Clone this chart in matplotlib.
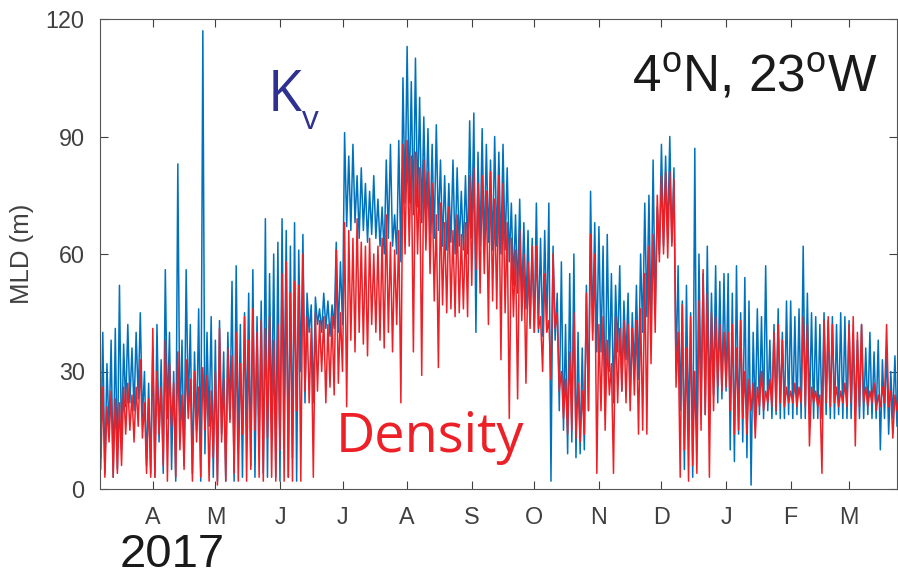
import numpy as np
import pandas as pd
import matplotlib
matplotlib.use("Agg")
import matplotlib.pyplot as plt

plt.rcParams['font.family'] = ['Liberation Sans', 'DejaVu Sans']
plt.rcParams['mathtext.fontset'] = 'custom'
plt.rcParams['mathtext.rm'] = 'Liberation Sans'

# samples every 2 days from 6 Mar 2017: high value on the day, low value the day after
start = '2017-03-06'

kv_hi = [
    35, 40, 32, 38, 41, 52, 37, 42, 36, 40, 45, 30, 27,            # Mar
    36, 42, 33, 56, 40, 30, 83, 38, 56, 42, 35, 46, 117, 40, 44,    # Apr
    38, 43, 35, 40, 53, 57, 42, 45, 50, 56, 44, 48, 69, 55, 60, 63,  # May
    69, 66, 62, 68, 61, 65, 50, 47, 49, 46, 50, 48, 47, 63, 58,     # Jun
    91, 85, 88, 80, 82, 78, 76, 80, 74, 72, 84, 88, 70, 89, 105,    # Jul
    113, 104, 110, 100, 95, 92, 88, 93, 84, 80, 78, 84, 82, 76, 80, 94,  # Aug
    96, 86, 92, 88, 84, 90, 86, 88, 82, 73, 70, 74, 68, 66, 64,     # Sep
    73, 64, 66, 73, 62, 50, 58, 42, 55, 60, 40, 36, 52, 76, 68,     # Oct
    67, 62, 65, 55, 52, 57, 48, 50, 45, 52, 60, 73, 75, 84, 72,     # Nov
    88, 85, 90, 82, 57, 48, 52, 45, 87, 60, 55, 62, 50, 57, 53, 55,  # Dec
    55, 50, 57, 45, 54, 48, 40, 46, 44, 57, 38, 42, 46, 40, 48,     # Jan
    48, 44, 46, 62, 50, 45, 44, 42, 45, 43, 44, 42, 45, 44,         # Feb
    43, 40, 38, 42, 36, 40, 35, 38, 33, 36, 30, 34, 28,             # Mar
]
kv_lo = [
    8, 4, 14, 3, 5, 10, 21, 22, 20, 23, 18, 6, 4,
    3, 12, 4, 18, 5, 2, 14, 6, 20, 4, 15, 2, 9, 16, 3,
    2, 14, 2, 18, 2, 10, 3, 16, 6, 3, 12, 4, 3, 15, 3, 2,
    20, 3, 8, 2, 30, 22, 40, 22, 42, 40, 41, 39, 41, 40, 42,
    67, 66, 68, 64, 66, 63, 65, 64, 62, 60, 64, 62, 60, 58, 73,
    73, 70, 72, 68, 69, 65, 64, 66, 62, 61, 63, 60, 62, 61, 60, 64,
    40, 62, 60, 63, 61, 62, 60, 61, 58, 52, 50, 48, 46, 42, 40,
    40, 39, 41, 2, 38, 20, 15, 9, 12, 8, 9, 10, 20, 40, 35,
    35, 20, 30, 22, 35, 25, 33, 23, 30, 28, 40, 44, 41, 45, 60,
    62, 64, 63, 30, 20, 5, 15, 3, 10, 22, 19, 20, 24, 22, 23, 25,
    10, 7, 14, 12, 8, 1, 18, 19, 18, 20, 18, 19, 18, 18, 19,
    18, 19, 18, 18, 19, 18, 18, 18, 19, 18, 18, 19, 18, 18,
    18, 19, 18, 18, 19, 18, 18, 10, 18, 14, 18, 16, 18,
]
rho_hi = [
    24, 26, 21, 25, 23, 22, 26, 27, 24, 26, 33, 22, 23,
    41, 30, 26, 38, 32, 27, 35, 24, 33, 28, 30, 26, 31, 29, 25,
    30, 41, 28, 36, 34, 40, 32, 44, 38, 46, 40, 43, 41, 44, 38, 42,
    55, 58, 50, 53, 52, 60, 44, 41, 45, 43, 44, 42, 44, 61, 45,
    68, 66, 64, 69, 63, 62, 64, 60, 62, 64, 70, 63, 61, 66, 88,
    89, 85, 86, 82, 84, 81, 78, 70, 73, 68, 72, 66, 70, 65, 68, 80,
    82, 78, 80, 76, 81, 74, 80, 78, 68, 64, 61, 66, 60, 58, 62,
    62, 44, 55, 43, 60, 45, 30, 28, 35, 45, 27, 25, 50, 65, 60,
    42, 44, 38, 32, 44, 41, 43, 42, 41, 43, 46, 55, 62, 65, 75,
    80, 81, 81, 79, 40, 47, 36, 44, 30, 48, 56, 50, 45, 44, 42, 40,
    40, 42, 36, 43, 30, 28, 27, 26, 30, 25, 28, 40, 42, 38, 26,
    25, 27, 26, 44, 42, 26, 25, 24, 43, 44, 42, 26, 25, 27,
    42, 44, 40, 42, 26, 25, 27, 24, 26, 42, 25, 24, 23,
]
rho_lo = [
    5, 3, 12, 3, 4, 6, 14, 15, 12, 16, 13, 4, 3,
    3, 14, 6, 2, 16, 3, 10, 5, 18, 2, 12, 3, 15, 2, 8,
    1, 12, 2, 17, 4, 2, 14, 2, 5, 15, 3, 2, 13, 3, 2, 10,
    2, 3, 2, 20, 2, 25, 22, 3, 25, 30, 22, 26, 24, 27, 30,
    21, 38, 35, 40, 37, 34, 42, 40, 38, 36, 40, 35, 42, 22, 60,
    62, 35, 60, 29, 61, 55, 48, 31, 47, 45, 46, 44, 45, 46, 44, 52,
    56, 50, 55, 42, 48, 46, 33, 45, 18, 44, 23, 43, 27, 41, 40,
    41, 30, 40, 28, 41, 25, 18, 14, 15, 13, 12, 14, 20, 38, 4,
    20, 15, 24, 4, 22, 25, 22, 20, 24, 14, 15, 14, 32, 40, 58,
    60, 59, 62, 26, 3, 10, 2, 6, 4, 15, 19, 3, 20, 26, 25, 26,
    20, 14, 15, 18, 14, 20, 13, 21, 20, 22, 21, 20, 22, 21, 22,
    22, 21, 22, 21, 11, 22, 21, 4, 22, 21, 22, 21, 22, 21,
    22, 11, 21, 22, 21, 22, 20, 21, 22, 21, 13, 20, 21,
]

month_ticks = pd.date_range('2017-04-01', '2018-03-01', freq='MS')
month_labels = ['A', 'M', 'J', 'J', 'A', 'S', 'O', 'N', 'D', 'J', 'F', 'M']
y_ticks = [0, 30, 60, 90, 120]

n = min(len(kv_hi), len(kv_lo), len(rho_hi), len(rho_lo))
days = pd.date_range(start, periods=n, freq='2D')
t = np.empty(2 * n, dtype='datetime64[ns]')
t[0::2] = days.values
t[1::2] = (days + pd.Timedelta(days=1)).values

kv = np.empty(2 * n)
kv[0::2] = kv_hi[:n]
kv[1::2] = kv_lo[:n]
rho = np.empty(2 * n)
rho[0::2] = rho_hi[:n]
rho[1::2] = rho_lo[:n]

W, H = 898, 577
fig = plt.figure(figsize=(W / 100, H / 100), dpi=100)
ax = fig.add_axes([100 / W, 88 / H, 797 / W, 470 / H])

ax.plot(t, kv, color='#0072BD', lw=1.1)
ax.plot(t, rho, color='#EE2027', lw=1.1)

ax.set_xlim(pd.Timestamp('2017-03-06 16:00'), pd.Timestamp('2018-03-24'))
ax.set_ylim(0, 120)
ax.set_yticks(y_ticks)
ax.set_xticks(month_ticks)
ax.set_xticklabels(month_labels)

grey = '#404040'
ax.tick_params(direction='in', length=6, width=0.8, colors=grey,
               labelsize=16.8, top=True, right=True)
ax.tick_params(axis='x', pad=12)
ax.tick_params(axis='y', pad=11)
for s in ax.spines.values():
    s.set_color('#555555')
    s.set_linewidth(0.8)

ax.set_ylabel('MLD (m)', fontsize=18.5, color=grey)
ax.yaxis.set_label_coords(-0.083, 0.5)

# annotations (pixel positions of the original figure)
fig.text(632 / W, 1 - 92 / H, r'4$^{\rm o}$N, 23$^{\rm o}$W', fontsize=37,
         color='#1a1a1a', va='baseline', ha='left')
fig.text(268 / W, 1 - 111 / H, 'K', fontsize=40, color='#2E3192',
         family='Open Sans', va='baseline', ha='left')
fig.text(302 / W, 1 - 129 / H, 'v', fontsize=24, color='#2E3192',
         family='Open Sans', va='baseline', ha='left')
fig.text(336 / W, 1 - 452 / H, 'Density', fontsize=39, color='#EE2027',
         family='Open Sans', va='baseline', ha='left')
fig.text(120 / W, 1 - 567 / H, '2017', fontsize=34, color='#1a1a1a',
         va='baseline', ha='left')

fig.savefig('out.png', dpi=100)
